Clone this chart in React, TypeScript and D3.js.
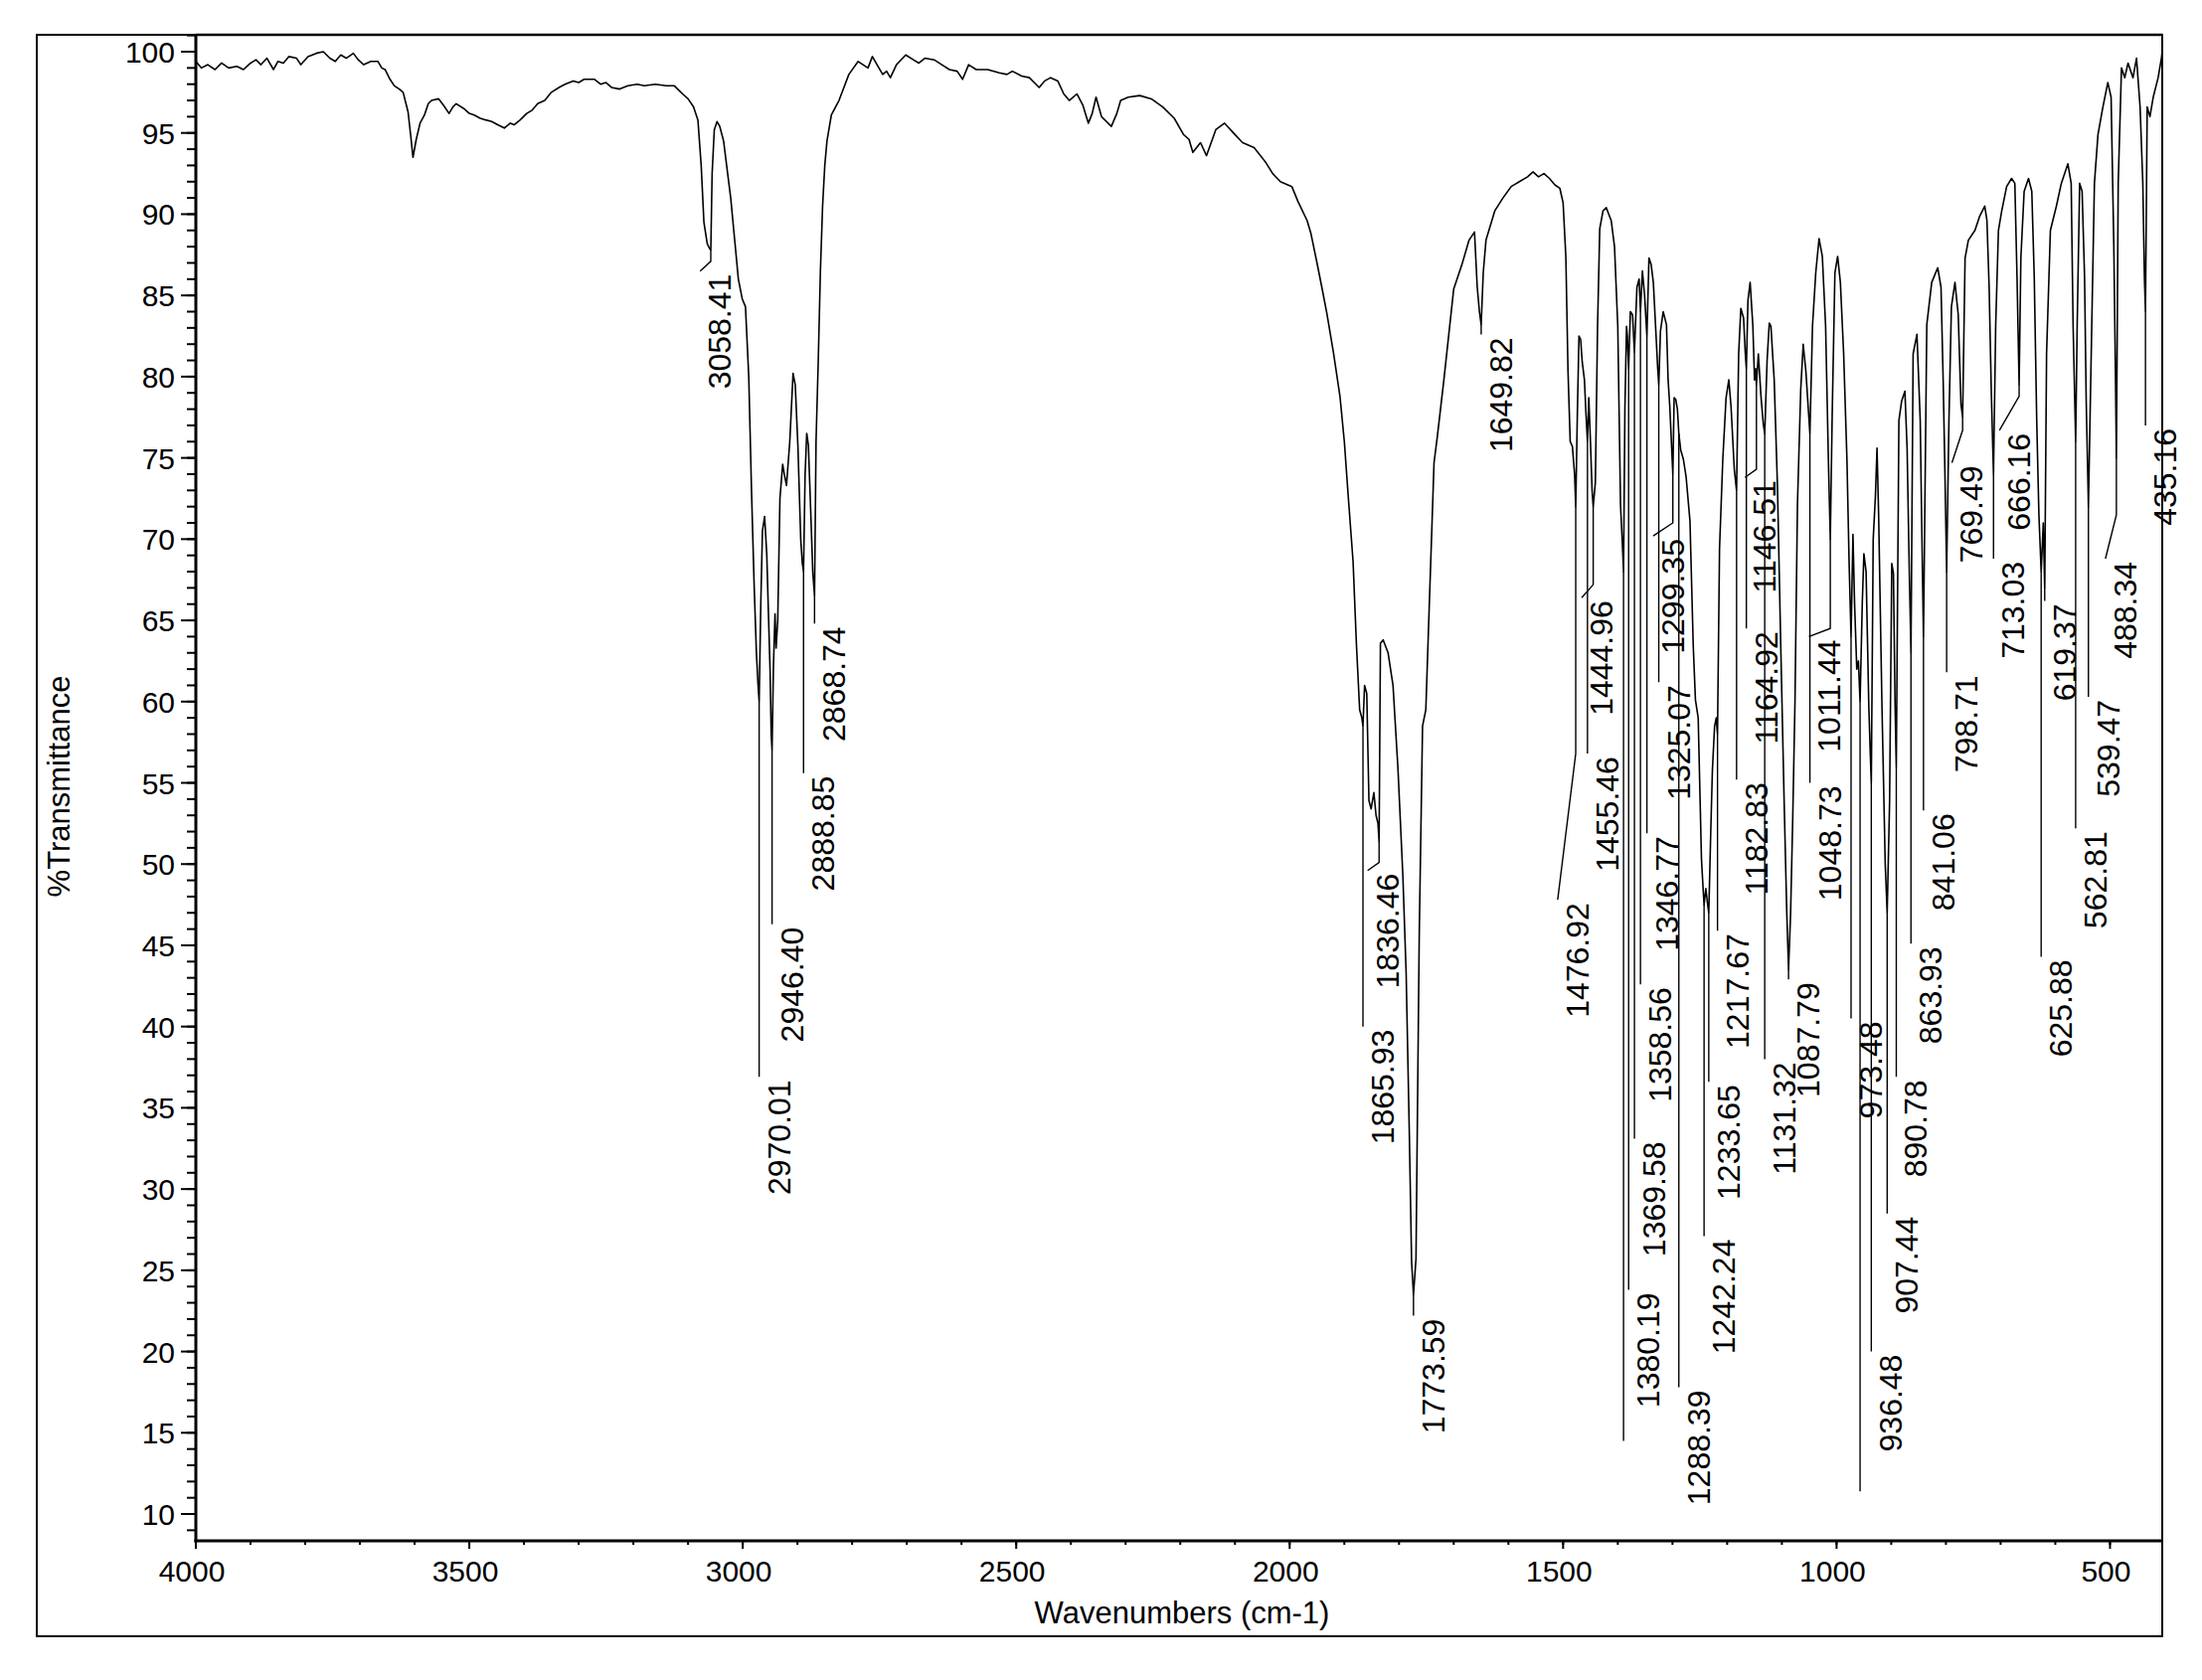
import React, { useEffect } from "react";
import * as d3 from "d3";

// ---------- DATA ----------
// Spectrum: [wavenumber (cm-1), %T]
const spectrumOH: [number, number][] = [
  [4000, 99.4], [3990, 99.0], [3978, 99.2], [3965, 98.9], [3953, 99.3], [3940, 99.0], [3925, 99.1],
  [3913, 98.9], [3900, 99.3], [3890, 99.5], [3881, 99.2], [3870, 99.6], [3858, 98.9], [3850, 99.4],
  [3840, 99.3], [3830, 99.7], [3816, 99.6], [3808, 99.2], [3795, 99.7], [3780, 99.9], [3767, 100.0],
  [3755, 99.6], [3745, 99.4], [3735, 99.8], [3725, 99.6], [3712, 99.9], [3703, 99.5], [3693, 99.2],
  [3680, 99.4], [3667, 99.4], [3660, 99.0], [3654, 98.9], [3645, 98.3], [3637, 97.9], [3628, 97.7],
  [3621, 97.5], [3612, 96.3], [3607, 94.8], [3603, 93.5], [3597, 94.6], [3590, 95.6], [3582, 96.1],
  [3575, 96.8], [3569, 97.0], [3556, 97.1], [3547, 96.7], [3537, 96.2], [3530, 96.6], [3524, 96.8],
  [3510, 96.5], [3500, 96.2], [3491, 96.1], [3480, 95.9], [3470, 95.8], [3459, 95.7], [3448, 95.5],
  [3436, 95.3], [3425, 95.6], [3418, 95.5], [3407, 95.8], [3395, 96.2], [3385, 96.4], [3375, 96.8],
  [3362, 97.0], [3350, 97.5], [3336, 97.8], [3325, 98.0], [3310, 98.2], [3300, 98.1], [3290, 98.3],
  [3271, 98.3], [3260, 98.0], [3250, 98.1], [3240, 97.8], [3225, 97.7], [3210, 97.9], [3193, 98.0],
  [3180, 97.9], [3160, 98.0], [3140, 97.9], [3125, 97.9],
];

const spectrumCH: [number, number][] = [
  [3110, 97.4], [3100, 97.1], [3090, 96.6], [3082, 95.8], [3076, 93.0], [3071, 89.5], [3065, 88.2],
  [3061, 87.9], [3058.41, 87.8], [3056, 92.5], [3052, 95.2], [3047, 95.7], [3042, 95.4], [3035, 94.5],
  [3028, 92.6], [3022, 91.0], [3015, 88.5], [3008, 86.0], [3001, 84.8], [2995, 84.3], [2989, 80.0],
  [2984, 73.0], [2979, 67.0], [2975, 63.0], [2972, 61.0], [2970.01, 60.0], [2967, 66.0], [2964, 70.5],
  [2960, 71.4], [2956, 69.0], [2953, 65.4], [2950, 61.9], [2948, 58.0], [2946.4, 57.0], [2944, 62.0],
  [2941, 65.4], [2939, 63.3], [2936, 65.0], [2932, 72.5], [2927, 74.6], [2924, 74.0], [2920, 73.3],
  [2914, 76.0], [2908, 80.2], [2904, 79.5], [2899, 75.6], [2894, 70.0], [2891, 68.5], [2888.85, 68.0],
  [2886, 74.0], [2883, 76.5], [2880, 75.8], [2876, 72.0], [2872, 68.0], [2868.74, 66.5], [2866, 76.0],
  [2862, 80.9], [2858, 86.5], [2854, 90.5], [2850, 93.0], [2846, 94.5], [2838, 96.1], [2824, 97.0],
  [2806, 98.6], [2789, 99.4], [2771, 99.0], [2763, 99.7], [2751, 99.0], [2744, 98.6], [2737, 98.8],
  [2730, 98.4], [2719, 99.2], [2702, 99.8],
];

const spectrumMid: [number, number][] = [
  [2688, 99.5], [2678, 99.3], [2667, 99.6], [2650, 99.5], [2636, 99.2], [2622, 98.9], [2608, 98.8],
  [2598, 98.3], [2587, 99.2], [2573, 98.9], [2552, 98.9], [2531, 98.7], [2517, 98.6], [2507, 98.8],
  [2490, 98.5], [2476, 98.4], [2458, 97.8], [2448, 98.2], [2437, 98.4], [2424, 98.2], [2413, 97.4],
  [2403, 97.0], [2389, 97.4], [2378, 96.7], [2368, 95.6], [2361, 96.2], [2354, 97.2], [2344, 96.0],
  [2326, 95.4], [2316, 96.2], [2309, 97.0], [2295, 97.2], [2274, 97.3], [2253, 97.1], [2232, 96.6],
  [2211, 95.9], [2194, 94.9], [2184, 94.6], [2177, 93.8], [2163, 94.4], [2152, 93.6], [2135, 95.2],
  [2119, 95.6], [2100, 94.9], [2086, 94.4], [2065, 94.1], [2044, 93.2], [2031, 92.5], [2017, 92.0],
  [1996, 91.7], [1985, 90.8], [1968, 89.6], [1961, 88.8],
];

const spectrumCO: [number, number][] = [
  [1950, 87.0], [1940, 85.3], [1932, 83.9], [1920, 81.5], [1908, 78.8], [1900, 76.0], [1893, 72.7],
  [1884, 68.6], [1878, 63.6], [1872, 59.5], [1868, 59.0], [1865.93, 58.5], [1863, 61.0], [1859, 60.5],
  [1855, 53.9], [1851, 53.4], [1846, 54.4], [1842, 53.0], [1838.5, 52.5], [1836.46, 51.4], [1834, 63.6],
  [1829, 63.8], [1820, 63.0], [1811, 61.0], [1802, 55.9], [1793, 49.3], [1787, 43.3], [1781, 33.1],
  [1777, 25.5], [1773.59, 23.5], [1769, 25.7], [1763, 45.8], [1757, 58.5], [1751, 59.5], [1745, 65.6],
  [1736, 74.7], [1730, 76.3], [1718, 79.8], [1700, 85.4], [1685, 86.9], [1672, 88.4], [1662, 88.9],
  [1657, 85.5], [1653, 84.0], [1649.82, 83.2], [1646, 86.4], [1641, 88.4], [1625, 90.2], [1610, 91.0],
  [1595, 91.7], [1580, 92.0], [1565, 92.3], [1555, 92.6], [1545, 92.3], [1535, 92.5], [1525, 92.2],
  [1515, 91.8], [1506, 91.6], [1500, 90.7], [1495, 87.4], [1491, 80.3], [1487, 76.0], [1483, 75.7],
  [1479, 74.0], [1476.92, 72.0],
];

const spectrumFingerprint: [number, number][] = [
  [1474, 77.6], [1471, 82.5], [1468, 82.3], [1465, 80.9], [1461, 79.8], [1458, 77.6], [1455.46, 76.0],
  [1453, 78.7], [1450, 76.0], [1447, 73.0], [1444.96, 72.0], [1441, 73.5], [1437, 83.1], [1433, 89.1],
  [1427, 90.2], [1421, 90.4], [1412, 89.6], [1406, 88.0], [1400, 83.1], [1395, 72.1], [1392, 70.0],
  [1389.5, 68.0], [1387, 78.0], [1384, 83.1], [1382.5, 82.5], [1380.19, 80.5], [1377, 84.0], [1373, 83.8],
  [1369.58, 81.5], [1365, 85.5], [1361, 86.0], [1358.56, 84.0], [1355, 86.5], [1351, 85.0], [1346.77, 82.5],
  [1343, 87.3], [1339, 86.9], [1335, 85.8], [1330, 82.5], [1327, 80.5], [1325.07, 79.5], [1322, 82.8],
  [1317, 84.0], [1311, 83.2], [1308, 79.8], [1305, 78.2], [1302, 76.0], [1299.35, 74.0], [1297, 78.7],
  [1294, 78.6], [1291, 78.0], [1288.39, 76.5], [1285, 75.5], [1280, 74.9], [1275, 73.8], [1268, 71.1],
  [1262, 63.4], [1258, 60.1], [1253, 59.0], [1247, 50.3], [1244, 48.5], [1242.24, 47.5], [1239, 48.5],
  [1236, 47.6], [1233.65, 47.0], [1230, 52.0], [1227, 55.8], [1223, 58.5], [1220, 59.0], [1217.67, 58.0],
  [1214, 69.4], [1208, 74.9], [1202, 78.7], [1197, 79.8], [1193, 78.2], [1187, 74.3], [1182.83, 73.0],
  [1179, 81.4], [1175, 84.2], [1170, 83.6], [1167, 81.5], [1164.92, 80.5], [1162, 84.7], [1158, 85.8],
  [1153, 83.1], [1150, 79.8], [1148, 80.5], [1146.51, 79.5], [1143, 81.4], [1138, 78.7], [1134, 77.1],
  [1131.32, 76.5], [1127, 81.0], [1123, 83.3], [1120, 83.1], [1114, 79.8], [1108, 73.2], [1102, 63.4],
  [1096, 54.1], [1091, 47.0], [1087.79, 43.5], [1084, 47.0], [1080, 53.0], [1076, 60.0], [1071.5, 72.1],
  [1065.5, 79.2], [1061, 82.0], [1056, 80.3], [1052, 78.2], [1048.73, 76.5], [1044, 83.1], [1038, 86.4],
  [1032, 88.5], [1026, 87.4], [1020, 83.1], [1015, 75.0], [1011.44, 70.0], [1008, 77.6], [1003, 86.4],
  [998, 87.4], [993, 85.8], [987, 81.4], [981, 74.9], [977, 68.5], [973.48, 64.0],
];

const spectrumLow: [number, number][] = [
  [970, 70.3], [967, 66.0], [963, 62.0], [960, 62.5], [957, 60.0], [953, 66.0], [950, 69.1], [946, 68.0],
  [941, 59.7], [938.5, 57.0], [936.48, 55.0], [933, 70.0], [929, 72.6], [926, 75.6], [923, 71.4],
  [917, 59.8], [911, 50.0], [907.44, 47.0], [903, 53.9], [899, 68.5], [896, 67.9], [893, 59.8],
  [890.78, 56.0], [886, 77.3], [881, 78.5], [875, 79.1], [871, 75.6], [867, 68.0], [863.93, 63.0],
  [860, 81.4], [853, 82.6], [847, 77.3], [844, 70.3], [841.06, 64.0], [835, 83.2], [826, 85.8],
  [815, 86.7], [809, 85.5], [805, 79.7], [802, 74.4], [798.71, 68.0], [794.5, 77.3], [790, 84.3],
  [783.5, 85.8], [777.5, 83.8], [772.5, 78.3], [769.49, 77.5], [765, 87.3], [759, 88.4], [747, 89.0],
  [738, 89.9], [729, 90.5], [725, 89.6], [721, 85.5], [717, 79.0], [713.03, 74.0], [709, 83.2],
  [704, 89.0], [698, 90.2], [689, 91.7], [680, 92.2], [674, 91.9], [670, 86.1], [666.16, 79.5],
  [663, 87.3], [657, 91.4], [649, 92.2], [643, 91.4], [638.5, 86.1], [634, 77.3], [630, 71.5],
  [625.88, 68.0], [622, 71.0], [619.37, 67.0], [616, 81.4], [609, 89.0], [598, 90.5], [589, 91.9],
  [577, 93.1], [571, 91.9], [567.5, 83.2], [562.81, 76.0], [560, 83.2], [555.5, 91.9], [551, 91.4],
  [546.5, 86.1], [543.5, 78.5], [539.47, 72.0], [535, 80.2], [528.5, 91.9], [522, 94.9], [513, 96.6],
  [504, 98.1], [498, 97.2], [493, 88.0], [490, 80.0], [488.34, 75.0], [485, 91.9], [479, 99.0],
  [473, 98.4], [467, 99.3], [458, 98.4], [451.5, 99.6], [445, 96.6], [440, 91.9], [437, 86.0],
  [435.16, 84.0], [432, 96.6], [427, 96.0], [421, 97.2], [412, 98.4], [406, 99.6], [404, 100.2],
];

// Peak labels (text) and their leader lines
const peakLabels = [
  "3058.41", "2970.01", "2946.40", "2888.85", "2868.74", "1865.93", "1836.46", "1773.59", "1649.82",
  "1476.92", "1455.46", "1444.96", "1380.19", "1369.58", "1358.56", "1346.77", "1325.07", "1299.35",
  "1288.39", "1242.24", "1233.65", "1217.67", "1182.83", "1164.92", "1146.51", "1131.32", "1087.79",
  "1048.73", "1011.44", "973.48", "936.48", "907.44", "890.78", "863.93", "841.06", "798.71", "769.49",
  "713.03", "666.16", "625.88", "619.37", "562.81", "539.47", "488.34", "435.16",
];
// %T where each leader ends (label starts just below)
const leaderEnd = [
  86.5, 36.9, 46.3, 55.6, 64.8, 40.0, 49.6, 22.2, 82.6,
  47.8, 56.8, 66.4, 23.8, 33.1, 42.6, 51.9, 61.2, 70.2,
  17.8, 27.1, 36.6, 45.9, 55.2, 64.5, 73.8, 38.0, 42.9,
  55.0, 64.0, 40.5, 20.0, 28.5, 36.9, 45.1, 53.3, 61.8, 74.7,
  68.8, 76.7, 44.3, 66.2, 52.2, 60.3, 68.8, 77.0,
];
// %T where a bent leader leaves the vertical (NaN = straight leader)
const leaderBend = [
  87.1, NaN, NaN, NaN, NaN, NaN, 50.1, NaN, NaN,
  56.8, NaN, 67.2, NaN, NaN, NaN, NaN, NaN, 71.0,
  NaN, NaN, NaN, NaN, NaN, NaN, 74.3, NaN, NaN,
  NaN, 64.5, NaN, NaN, NaN, NaN, NaN, NaN, NaN, 76.7,
  NaN, 78.8, NaN, NaN, NaN, NaN, 71.5, NaN,
];
// horizontal shift of the leader end, in cm-1 (positive = towards higher wavenumber)
const leaderShift = [
  19.5, 0, 0, 0, 0, 0, 21, 0, 0,
  33, 0, 21, 0, 0, 0, 0, 0, 36,
  0, 0, 0, 0, 0, 0, 21, 0, 0,
  0, 39, 0, 0, 0, 0, 0, 0, 0, 19.5,
  0, 36, 0, 0, 0, 0, 20, 0,
];
// leaders whose labels fall outside the plot
const hiddenLeaderWn = [1389.5, 957];
const hiddenLeaderEnd = [14.5, 11.4];

const xTickValues = [4000, 3500, 3000, 2500, 2000, 1500, 1000, 500];
const yTickValues = [10, 15, 20, 25, 30, 35, 40, 45, 50, 55, 60, 65, 70, 75, 80, 85, 90, 95, 100];

const xTitle = "Wavenumbers (cm-1)";
const yTitle = "%Transmittance";

// ---------- LAYOUT ----------
const W = 2215;
const H = 1690;
const P = { left: 197, right: 2175, top: 35, bottom: 1550 };
const FRAME = { left: 37, top: 35, right: 2175, bottom: 1646 };
const FONT = "'Liberation Sans', Arial, Helvetica, sans-serif";

const spectrum = [
  ...spectrumOH, ...spectrumCH, ...spectrumMid, ...spectrumCO, ...spectrumFingerprint, ...spectrumLow,
];

const x = d3.scaleLinear().domain([4000, 404.5]).range([P.left, P.right]);
const y = d3.scaleLinear().domain([8.35, 101.04]).range([P.bottom, P.top]);

function tAt(wn: number): number {
  for (let i = 0; i < spectrum.length - 1; i++) {
    const [w0, t0] = spectrum[i];
    const [w1, t1] = spectrum[i + 1];
    if (wn <= w0 && wn >= w1) {
      const f = w0 === w1 ? 0 : (w0 - wn) / (w0 - w1);
      return t0 + f * (t1 - t0);
    }
  }
  return 100;
}

export default function App() {
  useEffect(() => {
    document.body.style.margin = "0";
    document.body.style.background = "#fff";
  }, []);

  const line = d3
    .line<[number, number]>()
    .x((d) => x(d[0]))
    .y((d) => y(d[1]))
    .curve(d3.curveLinear);

  const xMinor = d3.range(4000, 499, -100);
  const yMinor = d3.range(9, 102, 1);

  return (
    <svg
      width={W}
      height={H}
      viewBox={`0 0 ${W} ${H}`}
      style={{ position: "absolute", left: 0, top: 0, display: "block", background: "#fff" }}
      fontFamily={FONT}
    >
      <rect x={0} y={0} width={W} height={H} fill="#fff" />
      <defs>
        <clipPath id="plotClip">
          <rect x={P.left} y={P.top} width={P.right - P.left} height={P.bottom - P.top} />
        </clipPath>
      </defs>

      {/* outer frame */}
      <rect
        x={FRAME.left}
        y={FRAME.top}
        width={FRAME.right - FRAME.left}
        height={FRAME.bottom - FRAME.top}
        fill="none"
        stroke="#000"
        strokeWidth={2}
      />

      {/* spectrum and leaders */}
      <g clipPath="url(#plotClip)">
        <path d={line(spectrum) || ""} fill="none" stroke="#000" strokeWidth={1.6} strokeLinejoin="round" />
        {peakLabels.map((lab, i) => {
          const wn = Number(lab);
          const tip = tAt(wn);
          const bend = isNaN(leaderBend[i]) ? leaderEnd[i] : leaderBend[i];
          const d = `M${x(wn)},${y(tip)}V${y(bend)}L${x(wn + leaderShift[i])},${y(leaderEnd[i])}`;
          return <path key={"l" + i} d={d} fill="none" stroke="#000" strokeWidth={1.4} />;
        })}
        {hiddenLeaderWn.map((wn, i) => (
          <path
            key={"h" + i}
            d={`M${x(wn)},${y(tAt(wn))}V${y(hiddenLeaderEnd[i])}`}
            fill="none"
            stroke="#000"
            strokeWidth={1.4}
          />
        ))}
      </g>

      {/* peak labels */}
      <g>
        {peakLabels.map((lab, i) => {
          const wn = Number(lab);
          const tx = x(wn + leaderShift[i]) + 31;
          const ty = y(leaderEnd[i]) + 3;
          return (
            <text
              key={"t" + i}
              transform={`translate(${tx},${ty}) rotate(-90)`}
              textAnchor="end"
              fontSize={32}
              fill="#000"
            >
              {lab}
            </text>
          );
        })}
      </g>

      {/* plot frame */}
      <line x1={P.left} y1={P.top} x2={P.right} y2={P.top} stroke="#000" strokeWidth={2.5} />
      <line x1={P.right} y1={P.top} x2={P.right} y2={FRAME.bottom} stroke="#000" strokeWidth={2} />
      <line x1={P.left} y1={P.top} x2={P.left} y2={P.bottom + 1.5} stroke="#000" strokeWidth={3} />
      <line x1={P.left - 1.5} y1={P.bottom} x2={P.right} y2={P.bottom} stroke="#000" strokeWidth={3} />

      {/* y ticks */}
      {yMinor.map((v) => (
        <line key={"ym" + v} x1={P.left - 9} x2={P.left} y1={y(v)} y2={y(v)} stroke="#000" strokeWidth={2} />
      ))}
      {yTickValues.map((v) => (
        <g key={"y" + v}>
          <line x1={P.left - 15} x2={P.left} y1={y(v)} y2={y(v)} stroke="#000" strokeWidth={2} />
          <text x={P.left - 21} y={y(v) + 11} textAnchor="end" fontSize={30} fill="#000">
            {v}
          </text>
        </g>
      ))}

      {/* x ticks */}
      {xMinor.map((v) => (
        <line key={"xm" + v} x1={x(v)} x2={x(v)} y1={P.bottom} y2={P.bottom + 4} stroke="#000" strokeWidth={2} />
      ))}
      {xTickValues.map((v) => (
        <g key={"x" + v}>
          <line x1={x(v)} x2={x(v)} y1={P.bottom} y2={P.bottom + 8} stroke="#000" strokeWidth={2} />
          <text x={x(v) - 4} y={1591} textAnchor="middle" fontSize={30} fill="#000">
            {v}
          </text>
        </g>
      ))}

      {/* axis titles */}
      <text x={1189} y={1633} textAnchor="middle" fontSize={31} fill="#000">
        {xTitle}
      </text>
      <text transform="translate(70,791) rotate(-90)" textAnchor="middle" fontSize={31} fill="#000">
        {yTitle}
      </text>
    </svg>
  );
}
